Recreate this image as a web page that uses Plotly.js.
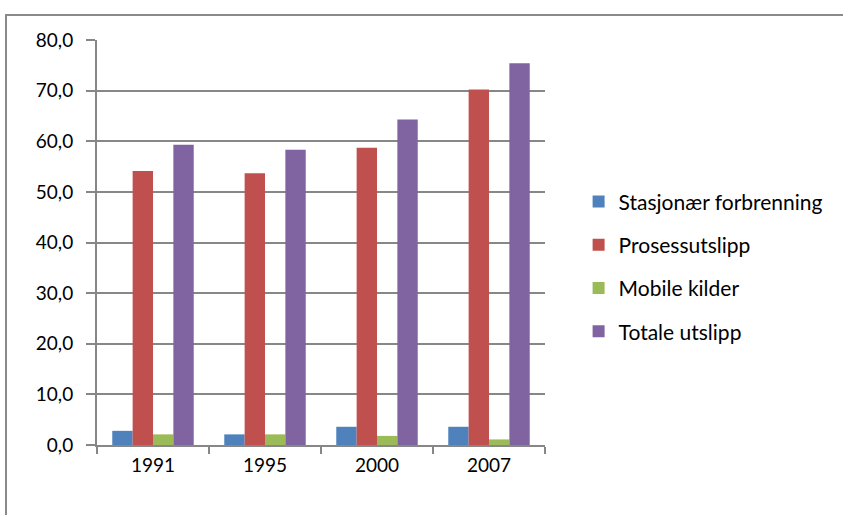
<!DOCTYPE html>
<html>
<head>
<meta charset="utf-8">
<script src="https://cdn.plot.ly/plotly-3.0.1.min.js"></script>
<style>
  html, body { margin: 0; padding: 0; background: #fff; overflow: hidden; }
  #frame { position: absolute; left: 5px; top: 14px; width: 900px; height: 600px;
           border-left: 2px solid #8a8a8a; border-top: 2px solid #8a8a8a; }
  #chart { position: absolute; left: 0; top: 0; width: 843px; height: 515px; }
</style>
</head>
<body>
<div id="frame"></div>
<div id="chart"></div>
<script>
const years = ['1991', '1995', '2000', '2007'];
const seriesNames = ['Stasjonær forbrenning', 'Prosessutslipp', 'Mobile kilder', 'Totale utslipp'];
const stasjonaer = [2.8, 2.1, 3.6, 3.6];
const prosess = [54.1, 53.7, 58.7, 70.2];
const mobile = [2.1, 2.1, 1.8, 1.1];
const totale = [59.3, 58.3, 64.3, 75.4];
const yTicks = [0, 10, 20, 30, 40, 50, 60, 70, 80];

const colors = ['#4F81BD', '#C0504D', '#9BBB59', '#8064A2'];
const values = [stasjonaer, prosess, mobile, totale];

const traces = values.map((v, i) => ({
  type: 'bar',
  name: seriesNames[i],
  x: years,
  y: v,
  marker: { color: colors[i], line: { width: 0 } },
  legendgroup: 'g' + i,
  hoverinfo: 'x+y+name'
}));

const gridColor = '#878787';

const layout = {
  width: 843,
  height: 515,
  margin: { l: 97, r: 298, t: 40, b: 70, pad: 0 },
  paper_bgcolor: 'rgba(0,0,0,0)',
  plot_bgcolor: 'rgba(0,0,0,0)',
  separators: ', ',
  barmode: 'group',
  bargap: 0.2727,
  bargroupgap: 0,
  font: { family: 'Lato, "Open Sans", sans-serif', size: 19, color: '#000' },
  xaxis: {
    type: 'category',
    showline: true,
    linecolor: gridColor,
    linewidth: 2,
    ticks: 'outside',
    tickson: 'boundaries',
    ticklen: 7,
    tickwidth: 2,
    tickcolor: gridColor,
    showgrid: false,
    tickfont: { size: 19, color: '#000' },
    ticklabelstandoff: 2,
    zeroline: false
  },
  yaxis: {
    range: [0, 80],
    tickvals: yTicks,
    tickformat: '.1f',
    showline: true,
    linecolor: gridColor,
    linewidth: 2,
    ticks: 'outside',
    ticklen: 9,
    tickwidth: 2,
    tickcolor: gridColor,
    showgrid: true,
    gridcolor: gridColor,
    gridwidth: 2,
    zeroline: false,
    tickfont: { size: 19, color: '#000' },
    ticklabelstandoff: 9
  },
  legend: {
    x: 1.075,
    xanchor: 'left',
    y: 0.44,
    yanchor: 'middle',
    traceorder: 'grouped',
    tracegroupgap: 13,
    font: { size: 21, color: '#000' },
    bgcolor: 'rgba(0,0,0,0)'
  },
  showlegend: true
};

Plotly.newPlot('chart', traces, layout, { displayModeBar: false, staticPlot: true });
</script>
</body>
</html>
